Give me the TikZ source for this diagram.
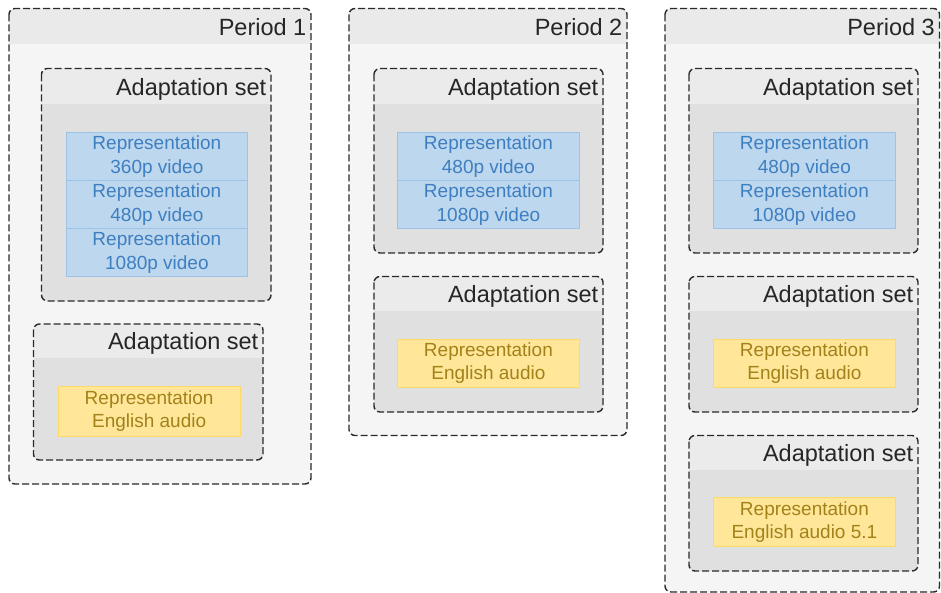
\documentclass[tikz,border=0pt]{standalone}
\usepackage{fontspec}
\setmainfont{Liberation Sans}
\definecolor{perhead}{HTML}{EAEAEA}
\definecolor{perbody}{HTML}{F5F5F5}
\definecolor{ashead}{HTML}{EBEBEB}
\definecolor{asbody}{HTML}{E0E0E0}
\definecolor{bordercol}{HTML}{2A2A2A}
\definecolor{bluefill}{HTML}{BDD7EE}
\definecolor{blueline}{HTML}{9DC3E6}
\definecolor{bluetext}{HTML}{3E7FC1}
\definecolor{yelfill}{HTML}{FFE699}
\definecolor{yelline}{HTML}{FFD966}
\definecolor{yeltext}{HTML}{A3821A}
\tikzset{
  contborder/.style={draw=bordercol, line width=1.4pt, dash pattern=on 7pt off 3pt, rounded corners=6pt},
  headlabel/.style={anchor=base east, inner sep=0pt, font=\fontsize{23.5}{27}\selectfont, text=black!85},
  repbox/.style={draw, line width=0.8pt, inner sep=0pt, align=center, font=\fontsize{19}{23.5}\selectfont},
  bluerep/.style={repbox, fill=bluefill, draw=blueline, text=bluetext},
  yelrep/.style={repbox, fill=yelfill, draw=yelline, text=yeltext},
}
% #1 name, #2 x1, #3 y1, #4 x2, #5 y2, #6 header bottom, #7 head colour, #8 body colour, #9 label
\newcommand\mycont[9]{%
  \fill[#8, rounded corners=6pt] (#2,#3) rectangle (#4,#5);
  \begin{scope}
    \clip[rounded corners=6pt] (#2,#3) rectangle (#4,#5);
    \fill[#7] (#2,#3) rectangle (#4,#6);
  \end{scope}
  \draw[contborder] (#2,#3) rectangle (#4,#5);
  \node[headlabel] (#1) at ({#4-4.5},{#6-8.5}) {#9};
}
% #1 name, #2 style, #3 x1, #4 y1, #5 x2, #6 y2, #7 text
\newcommand\myrep[7]{%
  \node[#2, minimum width={#5-#3}, minimum height={#6-#4}, anchor=north west] (#1) at (#3,#4) {#7};
}
\begin{document}
\begin{tikzpicture}[x=1pt,y=-1pt]
\useasboundingbox (0,0) rectangle (941,593);
\fill[white] (0,0) rectangle (941,593);
% Period 1
\mycont{p1}{9}{8.5}{311}{484}{44.5}{perhead}{perbody}{Period 1}
\mycont{p1a1}{41.5}{68.5}{271}{301}{104}{ashead}{asbody}{Adaptation set}
\myrep{p1r1}{bluerep}{66}{132}{247}{180}{Representation\\360p video}
\myrep{p1r2}{bluerep}{66}{180}{247}{228}{Representation\\480p video}
\myrep{p1r3}{bluerep}{66}{228}{247}{276.5}{Representation\\1080p video}
\mycont{p1a2}{33.5}{324}{263}{460}{358}{ashead}{asbody}{Adaptation set}
\myrep{p1r4}{yelrep}{57.5}{386}{240}{435.5}{Representation\\English audio}
% Period 2
\mycont{p2}{349}{8.5}{627}{435.5}{44.5}{perhead}{perbody}{Period 2}
\mycont{p2a1}{374}{68.5}{603}{253}{104}{ashead}{asbody}{Adaptation set}
\myrep{p2r1}{bluerep}{397}{132}{579}{180}{Representation\\480p video}
\myrep{p2r2}{bluerep}{397}{180}{579}{228.5}{Representation\\1080p video}
\mycont{p2a2}{374}{276.5}{603}{412}{311}{ashead}{asbody}{Adaptation set}
\myrep{p2r3}{yelrep}{397}{338.5}{579}{387}{Representation\\English audio}
% Period 3
\mycont{p3}{665}{8.5}{939.5}{592}{44.5}{perhead}{perbody}{Period 3}
\mycont{p3a1}{689}{68.5}{918}{253}{104}{ashead}{asbody}{Adaptation set}
\myrep{p3r1}{bluerep}{713}{132}{895}{180}{Representation\\480p video}
\myrep{p3r2}{bluerep}{713}{180}{895}{228.5}{Representation\\1080p video}
\mycont{p3a2}{689}{276.5}{918}{412}{311}{ashead}{asbody}{Adaptation set}
\myrep{p3r3}{yelrep}{713}{338.5}{895}{387}{Representation\\English audio}
\mycont{p3a3}{689}{435.5}{918}{571}{470}{ashead}{asbody}{Adaptation set}
\myrep{p3r4}{yelrep}{713}{497}{895}{546}{Representation\\English audio 5.1}
\end{tikzpicture}
\end{document}
